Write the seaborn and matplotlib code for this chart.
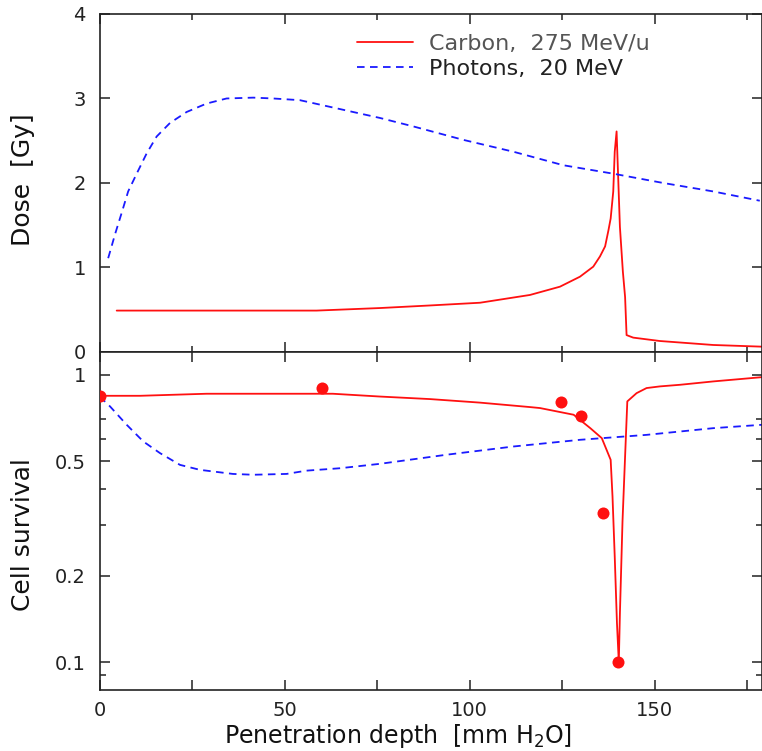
"""Dose and cell survival vs depth: carbon ions vs photons."""

import matplotlib

matplotlib.use('Agg')
import matplotlib.pyplot as plt
import seaborn as sns
from matplotlib.ticker import FixedLocator, NullFormatter

# ---- data ----
carbon_dose_x = [4.6, 30, 58.6, 75.7, 89, 102.8, 116.3, 124.4, 129.8, 133.4, 135.2,
                 136.6, 137.5, 138.1, 138.8, 139.2, 139.7, 140.0, 140.6, 141.4,
                 142.0, 142.4, 144.2, 151.4, 165.8, 179]
carbon_dose_y = [0.49, 0.49, 0.49, 0.52, 0.55, 0.583, 0.675, 0.773, 0.891, 1.01, 1.13,
                 1.25, 1.44, 1.58, 1.90, 2.37, 2.61, 2.23, 1.48, 0.95,
                 0.65, 0.20, 0.17, 0.13, 0.083, 0.063]

photon_dose_x = [2.3, 4.2, 5.9, 7.7, 10, 12.7, 15.4, 19, 23.5, 28.9, 34.3, 41.5,
                 46.9, 54.1, 61.3, 68.5, 75.7, 84.7, 98.3, 111.8, 125.3, 138.8,
                 152.3, 165.8, 178.4]
photon_dose_y = [1.11, 1.40, 1.64, 1.90, 2.11, 2.35, 2.55, 2.71, 2.84, 2.94, 3.00,
                 3.01, 3.00, 2.98, 2.91, 2.84, 2.77, 2.67, 2.51, 2.37, 2.21, 2.11,
                 2.00, 1.90, 1.79]

carbon_surv_x = [0, 10.9, 28.9, 63, 75.7, 89.3, 102.8, 116.3, 119, 124.4, 128.1,
                 132.6, 135.7, 137.0, 138.1, 138.6, 139.2, 139.8, 140.3, 140.6,
                 141.3, 142.0, 142.6, 145.1, 147.8, 151.4, 156.9, 165.8, 179]
carbon_surv_y = [0.845, 0.845, 0.859, 0.859, 0.84, 0.823, 0.80, 0.772, 0.766, 0.742,
                 0.726, 0.652, 0.602, 0.548, 0.506, 0.377, 0.233, 0.137, 0.100,
                 0.148, 0.309, 0.52, 0.808, 0.863, 0.899, 0.911, 0.923, 0.948, 0.981]

photon_surv_x = [0, 2.8, 7.3, 11.8, 16.3, 21.7, 27.1, 36.0, 41.5, 50.5, 55.9, 64.9,
                 75.7, 93.7, 111.8, 129.8, 147.8, 165.8, 179]
photon_surv_y = [0.84, 0.776, 0.670, 0.586, 0.534, 0.486, 0.467, 0.452, 0.449,
                 0.452, 0.464, 0.473, 0.49, 0.527, 0.563, 0.594, 0.618, 0.652, 0.670]

measured_x = [0, 60, 124.6, 130, 135.9, 140.2]
measured_y = [0.845, 0.903, 0.803, 0.721, 0.330, 0.100]

carbon_label = 'Carbon,  275 MeV/u'
photon_label = 'Photons,  20 MeV'

RED = '#ff1010'
BLUE = '#1a1aff'

sns.set_style('ticks')
plt.rcParams['font.family'] = ['DejaVu Sans']

fig = plt.figure(figsize=(7.62, 7.51), dpi=100)
left, right = 0.1308, 1.0
ax_top = fig.add_axes([left, 0.5313, right - left, 0.9814 - 0.5313])
ax_bot = fig.add_axes([left, 0.0812, right - left, 0.5313 - 0.0812], sharex=ax_top)

dash = (4.2, 3.0)

sns.lineplot(x=carbon_dose_x, y=carbon_dose_y, ax=ax_top, color=RED, lw=1.3,
             sort=False, estimator=None, label=carbon_label)
sns.lineplot(x=photon_dose_x, y=photon_dose_y, ax=ax_top, color=BLUE, lw=1.3,
             sort=False, estimator=None, label=photon_label)
ax_top.lines[1].set_dashes(dash)

sns.lineplot(x=carbon_surv_x, y=carbon_surv_y, ax=ax_bot, color=RED, lw=1.3,
             sort=False, estimator=None)
sns.lineplot(x=photon_surv_x, y=photon_surv_y, ax=ax_bot, color=BLUE, lw=1.3,
             sort=False, estimator=None)
ax_bot.lines[1].set_dashes(dash)
sns.scatterplot(x=measured_x, y=measured_y, ax=ax_bot, color=RED, s=75,
                edgecolor=RED, linewidth=0, zorder=5)

# axes ranges
ax_top.set_xlim(0, 179)
ax_top.set_ylim(0, 4)
ax_bot.set_yscale('log')
ax_bot.set_ylim(0.0801, 1.2)

# ticks
ax_top.set_yticks([0, 1, 2, 3, 4])
ax_bot.xaxis.set_major_locator(FixedLocator([0, 50, 100, 150]))
ax_bot.xaxis.set_minor_locator(FixedLocator([25, 75, 125, 175]))
ax_bot.yaxis.set_major_locator(FixedLocator([0.1, 0.2, 0.5, 1.0]))
ax_bot.yaxis.set_minor_locator(FixedLocator([0.09, 0.3, 0.4, 0.6, 0.7]))
ax_bot.yaxis.set_minor_formatter(NullFormatter())
ax_bot.set_yticklabels(['0.1', '0.2', '0.5', '1'])
ax_bot.set_xticklabels(['0', '50', '100', '150'])
plt.setp(ax_top.get_xticklabels(), visible=False)

for ax in (ax_top, ax_bot):
    for sp in ax.spines.values():
        sp.set_visible(True)
        sp.set_linewidth(1.2)
        sp.set_color('#222222')
    ax.tick_params(which='both', direction='in', top=True, right=True,
                   width=1.1, color='#222222', labelsize=14, labelcolor='#222222')
    ax.tick_params(which='major', length=7, pad=10)
    ax.tick_params(which='minor', length=4)
ax_bot.tick_params(axis='x', which='minor', length=7)
ax_bot.tick_params(axis='x', which='major', pad=8)

ax_top.set_ylabel('Dose  [Gy]', fontsize=18, color='#111111')
ax_bot.set_ylabel('Cell survival', fontsize=18, color='#111111')
ax_bot.set_xlabel('Penetration depth  [mm H$_2$O]', fontsize=17, color='#111111')
ax_top.yaxis.set_label_coords(-0.097, 0.51)
ax_bot.yaxis.set_label_coords(-0.097, 0.46)
ax_bot.xaxis.set_label_coords(0.45, -0.095)

leg = ax_top.legend(loc='upper left', bbox_to_anchor=(0.3885, 0.94), frameon=False,
                    fontsize=16, handlelength=2.5, handletextpad=0.76,
                    borderaxespad=0, borderpad=0, labelspacing=0.22)
leg.get_texts()[0].set_color('#555555')
leg.get_texts()[1].set_color('#222222')
leg.get_lines()[1].set_dashes(dash)

fig.savefig('out.png', dpi=100)
